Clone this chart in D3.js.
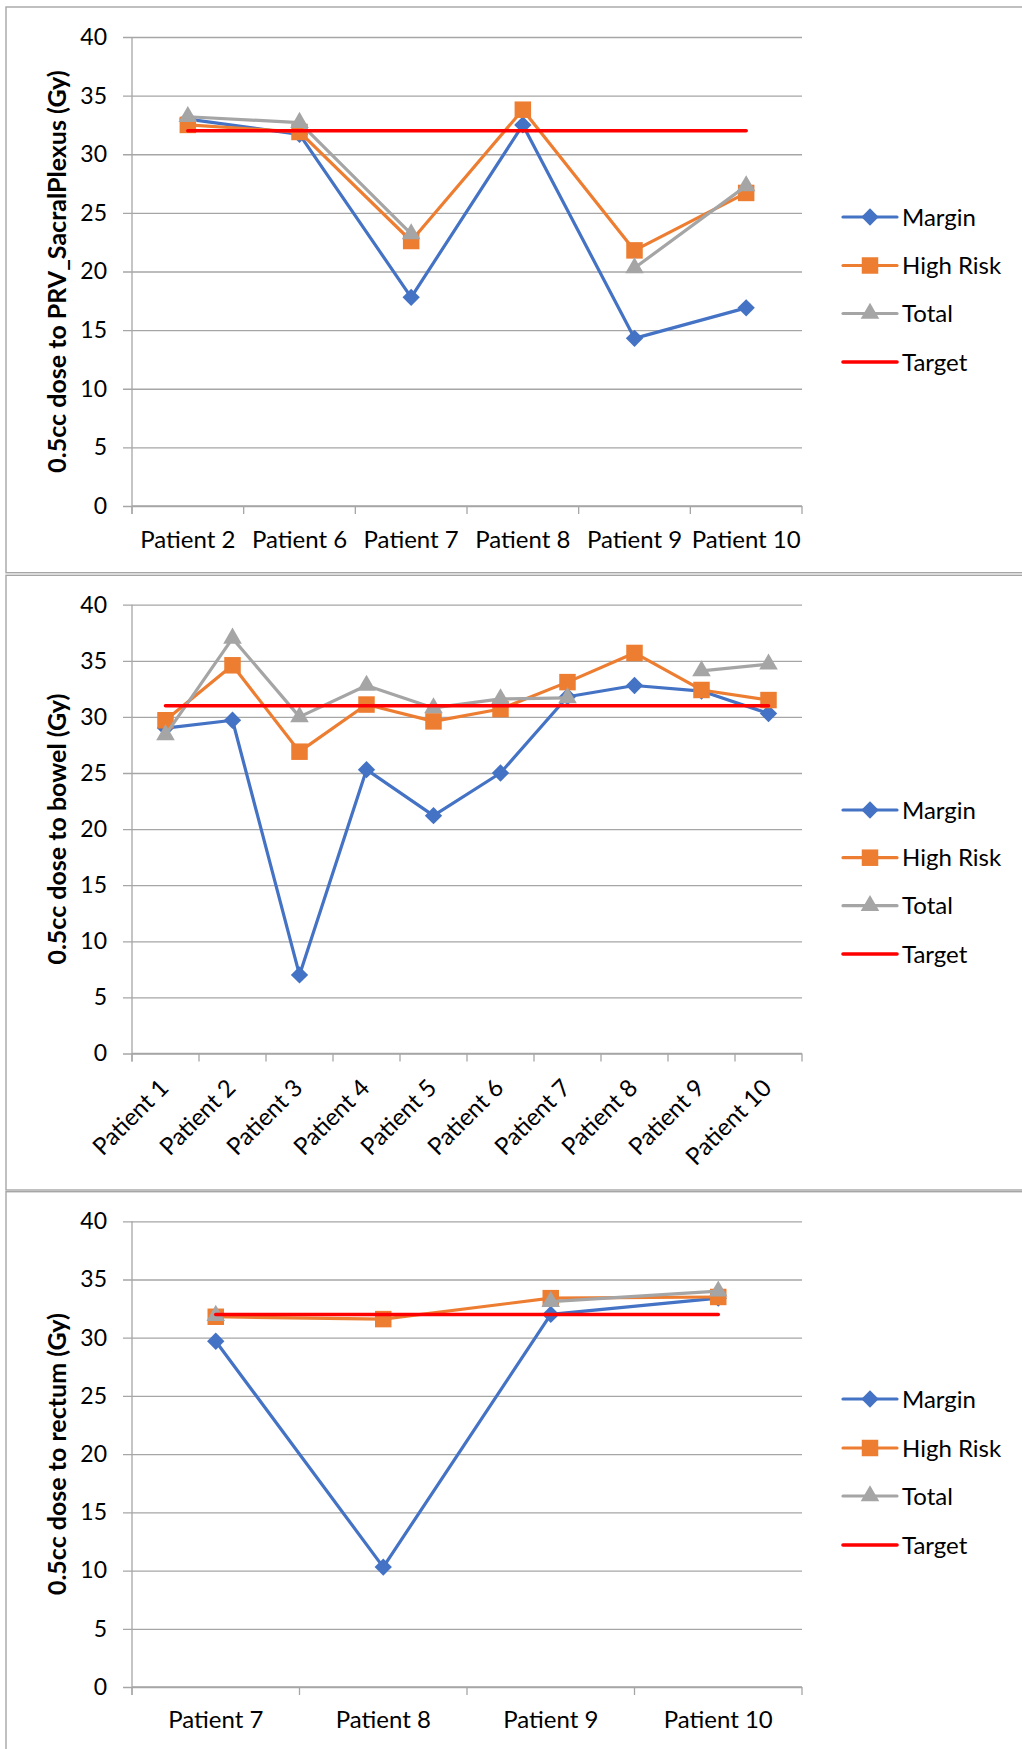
<!DOCTYPE html>
<html>
<head>
<meta charset="utf-8">
<script src="https://cdn.jsdelivr.net/npm/d3@7"></script>
<style>
  html, body { margin: 0; padding: 0; background: #fff; }
  svg { display: block; }
  text { font-family: Lato, "Open Sans", sans-serif; fill: #000; }
</style>
</head>
<body>
<svg id="chart" width="1022" height="1749"></svg>
<script>
// ---- Dose to PRV_SacralPlexus ----
const sacralCategories = ["Patient 2", "Patient 6", "Patient 7", "Patient 8", "Patient 9", "Patient 10"];
const sacralMargin   = [33.0, 31.7, 17.8, 32.5, 14.3, 16.9];
const sacralHighRisk = [32.5, 31.9, 22.6, 33.8, 21.8, 26.7];
const sacralTotal    = [33.2, 32.7, 23.2, null, 20.3, 27.3];
const sacralTarget   = 32;

// ---- Dose to bowel ----
const bowelCategories = ["Patient 1", "Patient 2", "Patient 3", "Patient 4", "Patient 5",
                         "Patient 6", "Patient 7", "Patient 8", "Patient 9", "Patient 10"];
const bowelMargin   = [29.0, 29.7, 7.0, 25.3, 21.2, 25.0, 31.8, 32.8, 32.3, 30.3];
const bowelHighRisk = [29.7, 34.6, 26.9, 31.1, 29.6, 30.7, 33.1, 35.7, 32.4, 31.5];
const bowelTotal    = [28.4, 37.0, 30.0, 32.8, 30.8, 31.6, 31.7, null, 34.1, 34.7];
const bowelTarget   = 31;

// ---- Dose to rectum ----
const rectumCategories = ["Patient 7", "Patient 8", "Patient 9", "Patient 10"];
const rectumMargin   = [29.7, 10.3, 32.0, 33.4];
const rectumHighRisk = [31.8, 31.6, 33.4, 33.5];
const rectumTotal    = [31.9, null, 33.1, 34.0];
const rectumTarget   = 32;

const yTicks = [0, 5, 10, 15, 20, 25, 30, 35, 40];
const seriesNames = ["Margin", "High Risk", "Total", "Target"];
const seriesColors = { "Margin": "#4472C4", "High Risk": "#ED7D31", "Total": "#A5A5A5", "Target": "#FF0000" };
const seriesSymbols = { "Margin": "diamond", "High Risk": "square", "Total": "triangle" };

const panels = [
  { title: "0.5cc dose to PRV_SacralPlexus (Gy)", categories: sacralCategories,
    series: { "Margin": sacralMargin, "High Risk": sacralHighRisk, "Total": sacralTotal },
    target: sacralTarget,
    box: [7, 572.7], plotTop: 37, plotBottom: 506, labelMode: "flat", labelY: 548,
    legendY: [217, 265.5, 313.5, 362] },
  { title: "0.5cc dose to bowel (Gy)", categories: bowelCategories,
    series: { "Margin": bowelMargin, "High Risk": bowelHighRisk, "Total": bowelTotal },
    target: bowelTarget,
    box: [575.3, 1190], plotTop: 604.7, plotBottom: 1053.5, labelMode: "rotated",
    legendY: [810, 857.7, 905.7, 954] },
  { title: "0.5cc dose to rectum (Gy)", categories: rectumCategories,
    series: { "Margin": rectumMargin, "High Risk": rectumHighRisk, "Total": rectumTotal },
    target: rectumTarget,
    box: [1191.7, 1770], plotTop: 1221.3, plotBottom: 1687, labelMode: "flat", labelY: 1728,
    legendY: [1399, 1448, 1496, 1545] }
];

const plotLeft = 132, plotRight = 802;
const gridColor = "#A6A6A6";
const svg = d3.select("#chart");

function symbolPath(kind) {
  if (kind === "diamond") return d3.symbol(d3.symbolSquare, 150)();
  if (kind === "square") return d3.symbol(d3.symbolSquare, 272)();
  return d3.symbol(d3.symbolTriangle, 150)();
}
function markerTransform(kind, x, y) {
  return kind === "diamond" ? `translate(${x},${y}) rotate(45)` : `translate(${x},${y})`;
}

panels.forEach(p => {
  const g = svg.append("g");

  // panel frame
  g.append("rect")
    .attr("x", 6).attr("y", p.box[0])
    .attr("width", 1040).attr("height", p.box[1] - p.box[0])
    .attr("fill", "none").attr("stroke", gridColor).attr("stroke-width", 1.4);

  const x = d3.scaleBand().domain(p.categories).range([plotLeft, plotRight]).padding(0);
  const y = d3.scaleLinear().domain([0, 40]).range([p.plotBottom, p.plotTop]);
  const cx = c => x(c) + x.bandwidth() / 2;

  // horizontal gridlines with left tick stubs
  const yAxis = d3.axisLeft(y).tickValues(yTicks).tickSize(-(plotRight - plotLeft)).tickPadding(25);
  const ya = g.append("g").attr("transform", `translate(${plotLeft},0)`).call(yAxis);
  ya.select(".domain").remove();
  ya.selectAll(".tick line").attr("stroke", gridColor).attr("stroke-width", 1.3)
    .attr("x1", -9);
  ya.selectAll(".tick text").attr("font-size", 23).attr("font-family", "Lato, sans-serif")
    .attr("fill", "#000");

  // vertical axis line
  g.append("line")
    .attr("x1", plotLeft).attr("x2", plotLeft)
    .attr("y1", p.plotTop).attr("y2", p.plotBottom + 8)
    .attr("stroke", gridColor).attr("stroke-width", 1.3);

  // category axis: ticks at band boundaries
  const boundaries = p.categories.map(c => x(c)).concat([plotRight]);
  g.append("line")
    .attr("x1", plotLeft).attr("x2", plotRight)
    .attr("y1", p.plotBottom).attr("y2", p.plotBottom)
    .attr("stroke", gridColor).attr("stroke-width", 1.3);
  g.selectAll(".ctick").data(boundaries).join("line")
    .attr("x1", d => d).attr("x2", d => d)
    .attr("y1", p.plotBottom).attr("y2", p.plotBottom + 8)
    .attr("stroke", gridColor).attr("stroke-width", 1.3);

  // category labels
  if (p.labelMode === "flat") {
    g.selectAll(".clabel").data(p.categories).join("text")
      .attr("x", d => cx(d)).attr("y", p.labelY)
      .attr("text-anchor", "middle").attr("font-size", 24)
      .text(d => d);
  } else {
    g.selectAll(".clabel").data(p.categories).join("text")
      .attr("transform", d => `translate(${cx(d) + 4.5},${p.plotBottom + 36}) rotate(-45)`)
      .attr("text-anchor", "end").attr("font-size", 24)
      .text(d => d);
  }

  // axis title
  g.append("text")
    .attr("transform", `translate(66,${(p.plotTop + p.plotBottom) / 2}) rotate(-90)`)
    .attr("text-anchor", "middle").attr("font-size", 25).attr("font-weight", "bold")
    .text(p.title);

  // data series
  const line = d3.line()
    .defined(d => d.v !== null)
    .x(d => cx(d.c)).y(d => y(d.v));

  ["Margin", "High Risk", "Total"].forEach(name => {
    const pts = p.categories.map((c, i) => ({ c, v: p.series[name][i] }));
    g.append("path").datum(pts)
      .attr("d", line)
      .attr("fill", "none").attr("stroke", seriesColors[name])
      .attr("stroke-width", 3.2).attr("stroke-linejoin", "round");
    g.selectAll(null).data(pts.filter(d => d.v !== null)).join("path")
      .attr("d", symbolPath(seriesSymbols[name]))
      .attr("transform", d => markerTransform(seriesSymbols[name], cx(d.c), y(d.v)))
      .attr("fill", seriesColors[name]);
  });

  // target line across the category centres
  const first = p.categories[0], last = p.categories[p.categories.length - 1];
  g.append("path")
    .datum([{ c: first, v: p.target }, { c: last, v: p.target }])
    .attr("d", line)
    .attr("fill", "none").attr("stroke", seriesColors["Target"])
    .attr("stroke-width", 3.6).attr("stroke-linecap", "round");

  // legend
  seriesNames.forEach((name, i) => {
    const ly = p.legendY[i];
    g.append("line")
      .attr("x1", 843).attr("x2", 897).attr("y1", ly).attr("y2", ly)
      .attr("stroke", seriesColors[name]).attr("stroke-width", name === "Target" ? 3.6 : 3.2)
      .attr("stroke-linecap", "round");
    if (seriesSymbols[name]) {
      g.append("path")
        .attr("d", symbolPath(seriesSymbols[name]))
        .attr("transform", markerTransform(seriesSymbols[name], 870, ly))
        .attr("fill", seriesColors[name]);
    }
    g.append("text")
      .attr("x", 902).attr("y", ly).attr("dy", "0.36em")
      .attr("font-size", 24)
      .text(name);
  });
});
</script>
</body>
</html>
